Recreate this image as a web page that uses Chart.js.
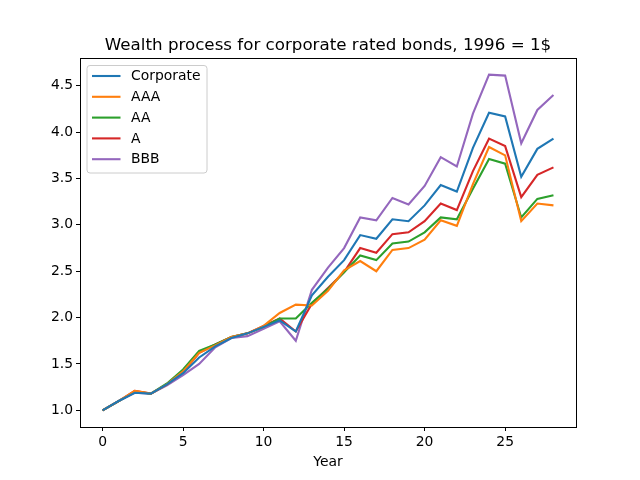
<!DOCTYPE html>
<html>
<head>
<meta charset="utf-8">
<script src="https://cdn.jsdelivr.net/npm/chart.js@4/dist/chart.umd.min.js"></script>
<style>
  html, body { margin: 0; padding: 0; background: #fff; }
  #wrap { width: 640px; height: 480px; position: relative; }
</style>
</head>
<body>
<div id="wrap"><canvas id="wealthChart" width="640" height="480"></canvas></div>
<script>
const years = [0, 1, 2, 3, 4, 5, 6, 7, 8, 9, 10, 11, 12, 13, 14, 15, 16, 17, 18, 19, 20, 21, 22, 23, 24, 25, 26, 27, 28];

const corporate = [1.00, 1.10, 1.19, 1.18, 1.28, 1.40, 1.57, 1.69, 1.78, 1.83, 1.90, 1.97, 1.85, 2.24, 2.44, 2.62, 2.89, 2.85, 3.06, 3.04, 3.21, 3.43, 3.36, 3.83, 4.21, 4.17, 3.52, 3.82, 3.93];
const aaa = [1.00, 1.10, 1.21, 1.18, 1.28, 1.42, 1.62, 1.70, 1.79, 1.83, 1.91, 2.05, 2.14, 2.13, 2.29, 2.51, 2.61, 2.50, 2.73, 2.75, 2.84, 3.05, 2.99, 3.44, 3.84, 3.75, 3.04, 3.23, 3.21];
const aa = [1.00, 1.10, 1.20, 1.18, 1.29, 1.44, 1.64, 1.71, 1.79, 1.83, 1.90, 1.99, 1.99, 2.16, 2.31, 2.49, 2.67, 2.62, 2.80, 2.82, 2.92, 3.08, 3.06, 3.39, 3.71, 3.66, 3.08, 3.28, 3.32];
const singleA = [1.00, 1.10, 1.21, 1.18, 1.28, 1.41, 1.62, 1.71, 1.79, 1.83, 1.91, 1.99, 1.85, 2.15, 2.32, 2.49, 2.75, 2.70, 2.90, 2.92, 3.04, 3.23, 3.16, 3.58, 3.93, 3.85, 3.30, 3.54, 3.62];
const bbb = [1.00, 1.10, 1.19, 1.18, 1.27, 1.38, 1.50, 1.68, 1.78, 1.80, 1.88, 1.96, 1.75, 2.30, 2.54, 2.75, 3.08, 3.05, 3.29, 3.22, 3.42, 3.73, 3.63, 4.20, 4.62, 4.61, 3.88, 4.24, 4.40];

const seriesNames = ["Corporate", "AAA", "AA", "A", "BBB"];
const xTicks = [0, 5, 10, 15, 20, 25];
const yTicks = [1.0, 1.5, 2.0, 2.5, 3.0, 3.5, 4.0, 4.5];

const colors = ["#1f77b4", "#ff7f0e", "#2ca02c", "#d62728", "#9467bd"];
const FONT = "'DejaVu Sans', sans-serif";

const toPoints = (vals) => years.map((yr, i) => ({ x: yr, y: vals[i] }));

// axes frame, title and the legend box (matplotlib look)
const decor = {
    id: "decor",
    afterDraw(chart) {
        const { ctx, chartArea: a } = chart;
        ctx.save();
        ctx.strokeStyle = "#000";
        ctx.lineWidth = 1;
        ctx.strokeRect(a.left + 0.5, a.top + 0.5, a.right - a.left, a.bottom - a.top);

        ctx.fillStyle = "#000";
        ctx.font = "16.7px " + FONT;
        ctx.textAlign = "center";
        ctx.textBaseline = "alphabetic";
        ctx.fillText("Wealth process for corporate rated bonds, 1996 = 1$", (a.left + a.right) / 2, a.top - 8.5);

        // legend
        const lx = a.left + 7, ly = a.top + 7.5, lw = 120, lh = 107.5;
        ctx.fillStyle = "rgba(255,255,255,0.8)";
        ctx.strokeStyle = "#cccccc";
        ctx.beginPath();
        ctx.roundRect(lx, ly, lw, lh, 3);
        ctx.fill();
        ctx.stroke();

        ctx.font = "13.9px " + FONT;
        ctx.textAlign = "left";
        ctx.textBaseline = "middle";
        chart.data.datasets.forEach((ds, i) => {
            const cy = ly + 10.5 + i * 20.8;
            ctx.strokeStyle = ds.borderColor;
            ctx.lineWidth = 2.1;
            ctx.beginPath();
            ctx.moveTo(lx + 5, cy);
            ctx.lineTo(lx + 33.5, cy);
            ctx.stroke();
            ctx.fillStyle = "#000";
            ctx.fillText(ds.label, lx + 44, cy + 0.5);
        });
        ctx.restore();
    },
};

const tickFont = { family: FONT, size: 13.9 };

new Chart(document.getElementById("wealthChart"), {
    type: "line",
    data: {
        datasets: [corporate, aaa, aa, singleA, bbb].map((vals, i) => ({
            label: seriesNames[i],
            data: toPoints(vals),
            borderColor: colors[i],
            backgroundColor: colors[i],
            borderWidth: 2.1,
            pointRadius: 0,
            tension: 0,
            fill: false,
        })),
    },
    options: {
        responsive: false,
        animation: false,
        layout: { padding: { left: 0, right: 64, top: 58, bottom: 0 } },
        plugins: {
            legend: { display: false },
            title: { display: false },
            tooltip: { enabled: false },
        },
        scales: {
            x: {
                type: "linear",
                min: -1.4,
                max: 29.4,
                afterFit: (s) => { s.height = 53; },
                afterBuildTicks: (s) => { s.ticks = xTicks.map((v) => ({ value: v })); },
                grid: { drawOnChartArea: false, drawTicks: true, tickLength: 4, color: "#000", tickWidth: 1 },
                border: { color: "#000", width: 1 },
                ticks: { color: "#000", font: tickFont, padding: 3, maxRotation: 0, autoSkip: false },
                title: { display: true, text: "Year", color: "#000", font: tickFont, padding: { top: 0, bottom: 9 } },
            },
            y: {
                type: "linear",
                min: 0.82,
                max: 4.80,
                afterFit: (s) => { s.width = 80; },
                afterBuildTicks: (s) => { s.ticks = yTicks.map((v) => ({ value: v })); },
                grid: { drawOnChartArea: false, drawTicks: true, tickLength: 4, color: "#000", tickWidth: 1 },
                border: { color: "#000", width: 1 },
                ticks: { color: "#000", font: tickFont, padding: 3, autoSkip: false, callback: (v) => Number(v).toFixed(1) },
            },
        },
    },
    plugins: [decor],
});
</script>
</body>
</html>
